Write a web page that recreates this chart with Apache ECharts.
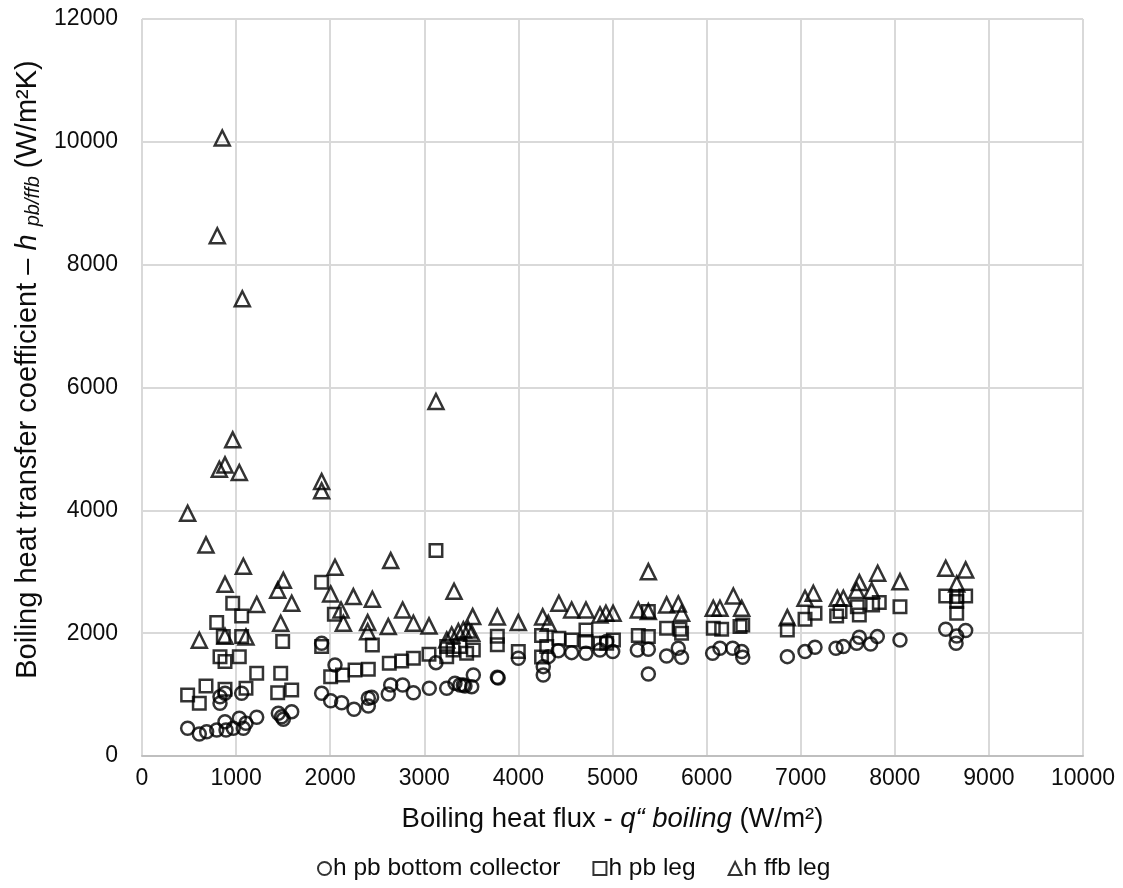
<!DOCTYPE html>
<html>
<head>
<meta charset="utf-8">
<script src="https://cdn.jsdelivr.net/npm/echarts@6/dist/echarts.min.js"></script>
<style>
html,body{margin:0;padding:0;background:#fff;}
#chart{width:1123px;height:888px;}
</style>
</head>
<body>
<div id="chart"></div>
<script>
const seriesNames = ['h pb bottom collector', 'h pb leg', 'h ffb leg'];
const xTicks = [0,1000,2000,3000,4000,5000,6000,7000,8000,9000,10000];
const yTicks = [0,2000,4000,6000,8000,10000,12000];

const pbBottom = [
[485,451],[609,358],[687,396],[794,424],[882,559],[893,424],[970,451],[1034,614],[1105,532],[1077,451],[1219,630],[1449,695],[1484,640],[1502,597],[1591,722],
[829,966],[882,1021],[829,858],[1059,1021],
[1909,1835],[1909,1021],[2005,901],[2122,868],[2253,760],[2405,814],[2440,956],[2405,940],[2051,1482],[2617,1010],[2643,1157],[2770,1157],[2884,1031],[3053,1102],[3124,1520],
[3238,1102],[3326,1184],[3415,1157],[3504,1129],[3521,1319],[3379,1157],[3432,1140],
[3776,1282],[3785,1270],
[3999,1591],[4264,1455],[4264,1319],[4318,1618],[4424,1715],[4566,1683],[4718,1673],[4867,1727],[4938,1863],[5002,1700],[5264,1727],
[5381,1738],[5381,1336],[5575,1629],[5699,1754],[5734,1607],[6064,1673],[6142,1754],[6277,1754],[6373,1700],[6384,1607],
[6858,1618],[7046,1700],[7152,1771],[7375,1754],[7453,1781],[7595,1835],[7623,1933],[7743,1824],[7814,1944],[8055,1890],[8541,2064],[8753,2042],[8658,1955],[8651,1835]
];

const pbLeg = [
[485,994],[609,858],[680,1140],[882,1086],[1105,1102],[1442,1031],[1591,1075],[1219,1346],[1474,1346],[829,1618],[1034,1618],[882,1537],[864,1944],[1059,1944],[1495,1863],[794,2172],[964,2487],[1059,2281],
[1909,2828],[2044,2308],[1909,1781],[2448,1808],[2005,1292],[2131,1319],[2264,1401],[2405,1412],[2628,1510],[2760,1548],[2884,1592],[3050,1657],[3124,3345],
[3238,1781],[3305,1727],[3379,1781],[3450,1673],[3521,1727],[3238,1618],
[3776,1950],[3776,1810],
[3999,1700],[4246,1960],[4246,1610],[4301,1781],[4430,1917],[4566,1890],[4718,2053],[4718,1863],[4867,1835],[4938,1835],[5010,1890],[5274,1960],[5381,1944],[5381,2351],[5575,2080],[5717,2064],[5734,1999],[6071,2080],[6160,2064],[6355,2107],[6384,2134],
[6858,2053],[7046,2226],[7152,2324],[7382,2281],[7418,2351],[7602,2432],[7623,2297],[7764,2460],[7835,2498],[8055,2432],[8541,2606],[8753,2606],[8658,2595],[8658,2514],[8658,2324]
];

const ffbLeg = [
[853,10062],[800,8471],[1066,7445],[3124,5772],[964,5148],[882,4740],[822,4670],[1034,4615],[1909,4469],[1909,4317],[485,3953],[680,3437],[1077,3090],[2051,3074],[2643,3182],[3316,2683],[882,2795],[1502,2860],[1442,2700],[1219,2468],[1591,2487],[2005,2639],[2246,2595],[2448,2552],[2115,2378],[2140,2161],[2770,2378],[2884,2161],[3050,2118],[2617,2107],[2398,2172],[2398,2025],[1474,2161],[609,1885],[882,1950],[1105,1938],
[3238,1890],[3291,1971],[3362,2025],[3415,2053],[3468,2053],[3504,1999],[3514,2270],[3776,2265],[3999,2172],[4258,2265],[4318,2161],[4430,2487],[4566,2378],[4718,2378],[4867,2297],[4930,2324],[5006,2324],[5274,2378],[5381,2351],[5381,3002],[5575,2460],[5699,2476],[5734,2324],[6071,2406],[6142,2406],[6284,2606],[6373,2406],[6858,2253],[7046,2568],[7134,2650],[7389,2568],[7453,2568],[7595,2693],[7623,2823],[7754,2693],[7818,2975],[8055,2839],[8541,3057],[8753,3030],[8658,2802]
];

const FONT = '"Liberation Sans", Arial, sans-serif';
const TXT = '#0d0d0d';
const chart = echarts.init(document.getElementById('chart'), null, {renderer:'canvas'});

function sc(name, data, symbol, size){
  return {
    name: name, type: 'scatter', data: data, symbol: symbol, symbolSize: size,
    itemStyle: {color: 'rgba(255,255,255,0)', borderColor: '#000', borderWidth: 2.5},
    emphasis: {disabled: true}, animation: false
  };
}

chart.setOption({
  backgroundColor: '#fff',
  animation: false,
  textStyle: {fontFamily: FONT},
  grid: {left: 142, right: 40, top: 19, bottom: 132, containLabel: false},
  xAxis: {
    type: 'value', min: xTicks[0], max: xTicks[xTicks.length-1], interval: 1000,
    axisLine: {show: true, lineStyle: {color: '#bfbfbf', width: 2}},
    axisTick: {show: false},
    splitLine: {show: true, lineStyle: {color: '#d9d9d9', width: 2}},
    axisLabel: {color: TXT, fontSize: 23, fontFamily: FONT, margin: 11, formatter: v => String(v)},
    name: '{a|Boiling heat flux - }{i|q“ boiling}{a| (W/m²)}',
    nameLocation: 'middle', nameGap: 49,
    nameTextStyle: {
      rich: {
        a: {fontSize: 27.5, fontFamily: FONT, color: TXT},
        i: {fontSize: 27.5, fontFamily: FONT, color: TXT, fontStyle: 'italic'}
      }
    }
  },
  yAxis: {
    type: 'value', min: yTicks[0], max: yTicks[yTicks.length-1], interval: 2000,
    axisLine: {show: false},
    axisTick: {show: false},
    splitLine: {show: true, lineStyle: {color: '#d9d9d9', width: 2}},
    axisLabel: {color: TXT, fontSize: 23, fontFamily: FONT, margin: 24, formatter: v => String(v)},
    name: '{a|Boiling heat transfer coefficient – }{i|h }{s|pb/ffb}{a| (W/m²K)}',
    nameLocation: 'middle', nameGap: 99, nameRotate: 90,
    nameTextStyle: {
      padding: [0, 0, 0, 36],
      rich: {
        a: {fontSize: 29, fontFamily: FONT, color: TXT},
        i: {fontSize: 29, fontFamily: FONT, color: TXT, fontStyle: 'italic'},
        s: {fontSize: 20, fontFamily: FONT, color: TXT, fontStyle: 'italic', verticalAlign: 'bottom', padding: [10,0,0,0]}
      }
    }
  },
  legend: {
    data: seriesNames, top: 851, left: 312,
    itemWidth: 13, itemHeight: 13, itemGap: 32,
    textStyle: {fontSize: 24.5, fontFamily: FONT, color: TXT, padding: [0,0,0,-3]},
    itemStyle: {color: 'rgba(255,255,255,0)', borderColor: '#000', borderWidth: 2}
  },
  series: [
    sc(seriesNames[0], pbBottom, 'circle', 13),
    sc(seriesNames[1], pbLeg, 'rect', 12.5),
    sc(seriesNames[2], ffbLeg, 'triangle', 15)
  ]
});
</script>
</body>
</html>
